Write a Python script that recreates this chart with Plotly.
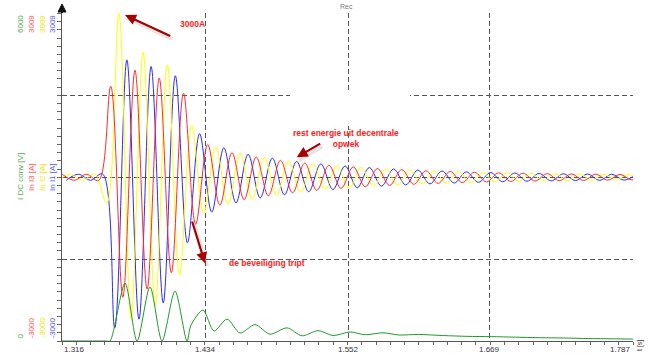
import numpy as np
import plotly.graph_objects as go

# ---- phase currents (A): signed extremum values, one per half cycle (50 Hz) ----
HALF_PERIOD = 0.01
red_t0 = 1.3162      # In I3
yellow_t0 = 1.3129   # In I2
blue_t0 = 1.3195     # In I1

red_extrema = [55, -55, 55, -60, 1665, -2200, 1960, -2050, 1815, -1750, 1540, -860,
               600, -510, 450, -410, 370, -340, 310, -285, 260, -240, 220, -205,
               190, -175, 160, -150, 140, -130, 120, -112, 105, -98, 92, -86,
               81, -77, 73, -69, 66, -63, 60, -58, 56, -54, 52, -50, 50]

yellow_extrema = [-55, 55, -55, 60, -475, 3000, -2600, 2290, -2350, 2060, -1790, 950,
                  -660, 560, -490, 440, -400, 360, -330, 300, -275, 250, -230, 212,
                  -196, 180, -166, 154, -143, 133, -124, 115, -107, 100, -94, 88,
                  -83, 78, -74, 70, -67, 64, -61, 59, -57, 55, -53, 51, -50]

blue_extrema = [-55, 55, -55, 60, -2760, 2150, -2600, 2030, -2300, 1860, -1200, 800,
                -640, 540, -470, 420, -380, 350, -320, 290, -265, 245, -225, 208,
                -193, 178, -164, 152, -141, 131, -122, 114, -106, 99, -93, 87,
                -82, 77, -73, 69, -66, 63, -60, 58, -56, 54, -52, 50]

# ---- converter DC quantity (V) ----
green_t = [1.3160, 1.3523, 1.3556, 1.3680, 1.3779, 1.3886, 1.3985, 1.4092, 1.4191,
           1.4224, 1.4323, 1.4414, 1.4521, 1.4629, 1.4752, 1.4876, 1.5016, 1.5140,
           1.5272, 1.5396, 1.5536, 1.5660, 1.5808, 1.5940, 1.6100, 1.6300, 1.6500,
           1.6700, 1.6900, 1.7100, 1.7300, 1.7500, 1.7700, 1.7870]
green_v = [0, 0, 0, 1060, 0, 990, 0, 915, 0,
           290, 565, 183, 400, 146, 300, 125, 240, 95,
           190, 100, 165, 115, 150, 110, 120, 100, 85,
           80, 70, 60, 55, 45, 40, 35]

x_ticks = [1.316, 1.434, 1.552, 1.669, 1.787]
x_tick_text = ["1.316", "1.434", "1.552", "1.669", "1.787"]

FONT = "Liberation Sans, Arial, sans-serif"
C_RED, C_YEL, C_BLU, C_GRN = "#ff2a2a", "#ffff00", "#2a2aff", "#1f9a2a"


def phase_times(t0, vals):
    return t0 + HALF_PERIOD * np.arange(len(vals))


fig = go.Figure()
for name, t0, vals, col in [("In I1 [A]", blue_t0, blue_extrema, C_BLU),
                            ("In I2 [A]", yellow_t0, yellow_extrema, C_YEL),
                            ("In I3 [A]", red_t0, red_extrema, C_RED)]:
    fig.add_trace(go.Scatter(x=phase_times(t0, vals), y=vals, mode="lines", name=name,
                             line=dict(color=col, width=1, shape="spline", smoothing=1.0)))
fig.add_trace(go.Scatter(x=green_t, y=green_v, mode="lines", name="I DC conv [V]", yaxis="y2",
                         line=dict(color=C_GRN, width=1, shape="spline", smoothing=0.8)))

L, R, T, B = 62, 15, 13, 15
W, H = 648, 356
PW, PH = W - L - R, H - T - B


def px(x):
    return (x - L) / PW


def py(y):
    return (H - B - y) / PH


grid = dict(showgrid=True, gridcolor="#555555", gridwidth=1, griddash="5px,3px", zeroline=False)
fig.update_layout(
    width=W, height=H, margin=dict(l=L, r=R, t=T, b=B),
    paper_bgcolor="white", plot_bgcolor="white", showlegend=False,
    font=dict(family=FONT, size=8, color="#333333"),
    xaxis=dict(range=[1.316, 1.787], tickvals=x_ticks, showticklabels=False, ticks="",
               showline=True, linecolor="#555555", linewidth=1,
               minor=dict(tickmode="linear", tick0=1.316, dtick=(1.787 - 1.316) / 40,
                          ticks="outside", ticklen=3, tickcolor="#666666", showgrid=False),
               **grid),
    yaxis=dict(range=[-3000, 3009], tickvals=[-1500, 0, 1500, 3009], showticklabels=False, ticks="",
               showline=True, linecolor="#555555", linewidth=1,
               minor=dict(tickmode="linear", tick0=0, dtick=150,
                          ticks="outside", ticklen=4, tickcolor="#666666", showgrid=False),
               **grid),
    yaxis2=dict(range=[0, 6000], overlaying="y", visible=False),
)

ann = []
# x tick labels
for v, txt in zip(x_ticks, x_tick_text):
    anchor = "left" if v == x_ticks[0] else ("right" if v == x_ticks[-1] else "center")
    ann.append(dict(x=v, xref="x", y=0, yref="paper", yshift=-2, text=txt, showarrow=False,
                    xanchor=anchor, yanchor="top", font=dict(size=8, color="#333333")))

# channel scale labels, rotated along the left side
channels = [(20, "#55aa55", "6000", "0", "I DC conv [V]"),
            (31, "#ff5555", "3009", "-3000", "In I3 [A]"),
            (42, "#e8e800", "3009", "-3000", "In I2 [A]"),
            (52, "#5555ff", "3009", "-3000", "In I1 [A]")]
for xpix, lab_col, top, bot, name in channels:
    common = dict(xref="paper", yref="paper", x=px(xpix), showarrow=False, textangle=-90,
                  xanchor="center", font=dict(size=8, color=lab_col))
    ann.append(dict(y=py(13), yanchor="top", text=top, **common))
    ann.append(dict(y=py(177), yanchor="middle", text=name, **common))
    ann.append(dict(y=py(341), yanchor="bottom", text=bot, **common))

ann.append(dict(xref="paper", yref="paper", x=px(640), y=py(346), text="t [s]", textangle=-90,
                showarrow=False, xanchor="center", yanchor="middle", font=dict(size=7, color="#333333")))
ann.append(dict(xref="paper", yref="paper", x=px(346), y=py(7), text="Rec", showarrow=False,
                xanchor="center", yanchor="middle", font=dict(size=7, color="#777777")))

# callout arrows (soft shadow first, then arrow)
arrows = [((125, 15), (171.7, 36.7)), ((296.7, 157.3), (321.7, 142.7)), ((205, 263.3), (191.7, 220))]
for (hx, hy), (tx, ty) in arrows:
    ann.append(dict(xref="paper", yref="paper", x=px(hx + 2), y=py(hy + 3), ax=tx - hx, ay=ty - hy,
                    axref="pixel", ayref="pixel", text="", showarrow=True, arrowhead=0,
                    arrowwidth=4, arrowcolor="rgba(0,0,0,0.10)"))
    ann.append(dict(xref="paper", yref="paper", x=px(hx), y=py(hy), ax=tx - hx, ay=ty - hy,
                    axref="pixel", ayref="pixel", text="", showarrow=True, arrowhead=2, arrowsize=1,
                    arrowwidth=2.2, arrowcolor="#a80000"))

callout_font = dict(family="Liberation Sans, Arial, sans-serif", size=8.5, color="#ff2020")
ann.append(dict(xref="paper", yref="paper", x=px(192), y=py(24), text="<b>3000A</b>", showarrow=False,
                xanchor="center", yanchor="middle", font=callout_font))
ann.append(dict(xref="paper", yref="paper", x=px(346), y=py(138),
                text="<b>rest energie uit decentrale<br>opwek</b>", showarrow=False,
                xanchor="center", yanchor="middle", align="center", font=callout_font))
ann.append(dict(xref="paper", yref="paper", x=px(267), y=py(263), text="<b>de beveiliging tript</b>",
                showarrow=False, xanchor="center", yanchor="middle", font=callout_font))
fig.update_layout(annotations=ann)

# white backing of the callout block, hiding the grid behind it
fig.add_shape(type="rect", xref="paper", yref="paper", x0=px(290), x1=px(410), y0=py(126), y1=py(93),
              fillcolor="white", line=dict(width=0), layer="above")

# arrow tip on top of the vertical axis
fig.add_shape(type="path", xref="paper", yref="paper",
              path=f"M {px(58)} {py(12)} L {px(66)} {py(12)} L {px(62)} {py(4)} Z",
              fillcolor="#111111", line=dict(color="#111111", width=1))
fig.add_shape(type="line", xref="paper", yref="paper", x0=px(62), x1=px(62), y0=py(12), y1=1,
              line=dict(color="#111111", width=2))

fig.write_html("out.html")
